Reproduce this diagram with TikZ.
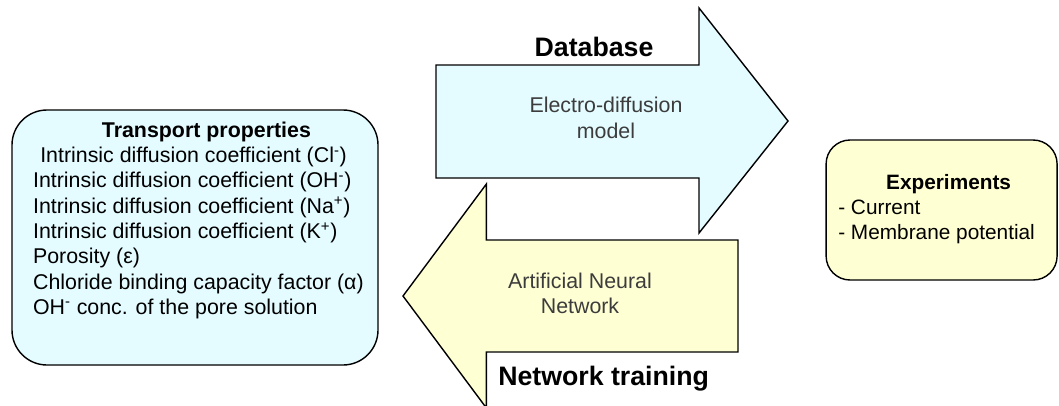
\documentclass[tikz,border=0pt]{standalone}
\usepackage{fontspec}
\setmainfont{Liberation Sans}
\usetikzlibrary{
    positioning
}
\definecolor{paleblue}{RGB}{228,252,255}
\definecolor{paleyellow}{RGB}{255,255,212}
\definecolor{arrowtext}{RGB}{60,60,60}

\begin{document}
\begin{tikzpicture}[
    every node/.style={
        font=\fontsize{15.2pt}{18pt}\selectfont,
        inner sep=0pt
    },
    propbox/.style={
        rectangle,
        rounded corners=0.875cm,
        minimum width=9.15cm,
        minimum height=6.375cm,
        draw=black,
        line width=1pt,
        fill=paleblue
    },
    expbox/.style={
        rectangle,
        rounded corners=0.6cm,
        minimum width=5.775cm,
        minimum height=3.5cm,
        draw=black,
        line width=1pt,
        fill=paleyellow
    },
    bigarrow/.style={
        draw=black,
        line width=1pt,
        line join=miter
    },
    arrowlabel/.style={
        align=center,
        text=arrowtext
    },
    heading/.style={
        font=\fontsize{19pt}{22pt}\selectfont\bfseries
    }
]

\useasboundingbox (0,0) rectangle (26.475,-10.125);
\clip (0,0) rectangle (26.475,-10.125);

% ==========================================================
% Transport properties
% ==========================================================
\node[propbox] (props) at (4.875,-5.9375) {};

\node[anchor=north west] (propstext) at (0.82,-2.98) {
    \begin{tabular}{@{}l@{}}
    \multicolumn{1}{c}{\hspace{0.4cm}\textbf{Transport properties}}\\
    \hspace{0.18cm}Intrinsic diffusion coefficient (Cl\textsuperscript{-})\\
    Intrinsic diffusion coefficient (OH\textsuperscript{-})\\
    Intrinsic diffusion coefficient (Na\textsuperscript{+})\\
    Intrinsic diffusion coefficient (K\textsuperscript{+})\\
    Porosity (ε)\\
    Chloride binding capacity factor (α)\\
    OH\textsuperscript{-} conc. of the pore solution
    \end{tabular}
};

% ==========================================================
% Experiments
% ==========================================================
\node[expbox] (exps) at (23.54,-5.25) {};

\node[anchor=north west] (expstext) at (20.95,-4.28) {
    \fontsize{14.8pt}{17.8pt}\selectfont
    \begin{tabular}{@{}l@{}}
    \multicolumn{1}{c}{\hspace{0.6cm}\textbf{Experiments}}\\
    - Current\\
    - Membrane potential
    \end{tabular}
};

% ==========================================================
% Database arrow
% ==========================================================
\draw[bigarrow, fill=paleblue]
    (10.9,-1.625) -- (17.475,-1.625) -- (17.475,-0.2)
    -- (19.7,-3.025)
    -- (17.475,-5.825) -- (17.475,-4.45) -- (10.9,-4.45) -- cycle;

\node[arrowlabel] (model) at (15.15,-2.95) {
    Electro-diffusion\\model
};

\node[heading] (database) at (14.85,-1.175) {Database};

% ==========================================================
% Network training arrow
% ==========================================================
\draw[bigarrow, fill=paleyellow]
    (18.45,-6.0) -- (12.16,-6.0) -- (12.16,-4.6)
    -- (10.075,-7.4)
    -- (12.16,-10.2) -- (12.16,-8.8) -- (18.45,-8.8) -- cycle;

\node[arrowlabel] (ann) at (14.5,-7.33) {
    Artificial Neural\\Network
};

\node[heading, anchor=west] (training) at (12.45,-9.475) {Network training};

\end{tikzpicture}
\end{document}
